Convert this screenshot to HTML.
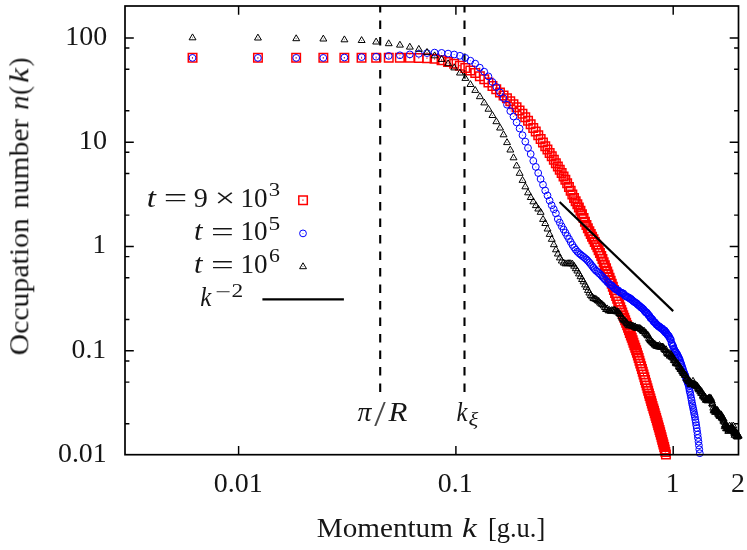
<!DOCTYPE html>
<html><head><meta charset="utf-8"><title>Occupation number n(k)</title>
<style>html,body{margin:0;padding:0;background:#fff}body{width:747px;height:550px;overflow:hidden;font-family:"Liberation Serif",serif}svg{display:block}</style></head>
<body>
<svg width="747" height="550" viewBox="0 0 747 550">
<rect width="747" height="550" fill="#fff"/>
<path d="M125 423.7h4.4M738.5 423.7h-4.4M125 382.1h4.4M738.5 382.1h-4.4M125 360.9h4.4M738.5 360.9h-4.4M125 350.8h8.8M738.5 350.8h-8.8M125 319.4h4.4M738.5 319.4h-4.4M125 277.8h4.4M738.5 277.8h-4.4M125 256.6h4.4M738.5 256.6h-4.4M125 246.4h8.8M738.5 246.4h-8.8M125 215.1h4.4M738.5 215.1h-4.4M125 173.5h4.4M738.5 173.5h-4.4M125 152.3h4.4M738.5 152.3h-4.4M125 142.2h8.8M738.5 142.2h-8.8M125 110.8h4.4M738.5 110.8h-4.4M125 69.2h4.4M738.5 69.2h-4.4M125 48h4.4M738.5 48h-4.4M125 37.9h8.8M738.5 37.9h-8.8M238.6 454.7v-8.8M238.6 6v8.8M455.9 454.7v-8.8M455.9 6v8.8M673.2 454.7v-8.8M673.2 6v8.8" stroke="#000" stroke-width="1.45" fill="none"/>
<path d="M380.2 392.1V6" stroke="#000" stroke-width="2.1" stroke-dasharray="8.7 7.8" fill="none"/>
<path d="M464.5 392.1V6" stroke="#000" stroke-width="2.1" stroke-dasharray="8.7 7.8" fill="none"/>
<path d="M188.3 53.6h8.5v8.5h-8.5zM253.7 53.6h8.5v8.5h-8.5zM291.9 53.6h8.5v8.5h-8.5zM319.1 53.6h8.5v8.5h-8.5zM340.1 53.6h8.5v8.5h-8.5zM357.3 53.6h8.5v8.5h-8.5zM371.9 53.6h8.5v8.5h-8.5zM384.5 53.6h8.5v8.5h-8.5zM395.6 53.6h8.5v8.5h-8.5zM405.6 53.6h8.5v8.5h-8.5zM414.6 53.7h8.5v8.5h-8.5zM422.8 54h8.5v8.5h-8.5zM430.3 54.6h8.5v8.5h-8.5zM437.3 56h8.5v8.5h-8.5zM443.8 57.8h8.5v8.5h-8.5zM449.9 59.5h8.5v8.5h-8.5zM455.6 61.5h8.5v8.5h-8.5zM461 63.8h8.5v8.5h-8.5zM466.1 66.2h8.5v8.5h-8.5zM471 68.8h8.5v8.5h-8.5zM475.6 72h8.5v8.5h-8.5zM480 75h8.5v8.5h-8.5zM484.2 78.2h8.5v8.5h-8.5zM488.2 81.7h8.5v8.5h-8.5zM492 85h8.5v8.5h-8.5zM495.7 88.3h8.5v8.5h-8.5zM499.3 91.2h8.5v8.5h-8.5zM502.7 94.1h8.5v8.5h-8.5zM506 97.1h8.5v8.5h-8.5zM509.2 100h8.5v8.5h-8.5zM512.3 103.1h8.5v8.5h-8.5zM515.3 106.3h8.5v8.5h-8.5zM518.2 109.6h8.5v8.5h-8.5zM521 113.1h8.5v8.5h-8.5zM523.8 116.5h8.5v8.5h-8.5zM526.4 120.1h8.5v8.5h-8.5zM529 123.7h8.5v8.5h-8.5zM531.5 127.3h8.5v8.5h-8.5zM534 131h8.5v8.5h-8.5zM536.4 134.7h8.5v8.5h-8.5zM538.7 138.3h8.5v8.5h-8.5zM541 141.9h8.5v8.5h-8.5zM543.2 145.3h8.5v8.5h-8.5zM545.4 148.7h8.5v8.5h-8.5zM547.5 152.1h8.5v8.5h-8.5zM549.6 155.5h8.5v8.5h-8.5zM551.6 158.9h8.5v8.5h-8.5zM553.6 162.2h8.5v8.5h-8.5zM555.5 165.5h8.5v8.5h-8.5zM557.4 168.8h8.5v8.5h-8.5zM559.3 172.2h8.5v8.5h-8.5zM561.1 175.6h8.5v8.5h-8.5zM562.9 179.1h8.5v8.5h-8.5zM564.7 182.8h8.5v8.5h-8.5zM566.4 186.5h8.5v8.5h-8.5zM568.1 190.2h8.5v8.5h-8.5zM569.8 193.7h8.5v8.5h-8.5zM571.4 197h8.5v8.5h-8.5zM573.1 200.1h8.5v8.5h-8.5zM574.6 203.2h8.5v8.5h-8.5zM576.2 206.6h8.5v8.5h-8.5zM577.7 210.1h8.5v8.5h-8.5zM579.3 213.8h8.5v8.5h-8.5zM580.7 217.4h8.5v8.5h-8.5zM582.2 220.8h8.5v8.5h-8.5zM583.6 223.9h8.5v8.5h-8.5zM585.1 226.9h8.5v8.5h-8.5zM586.5 229.7h8.5v8.5h-8.5zM587.8 232.4h8.5v8.5h-8.5zM589.2 235.1h8.5v8.5h-8.5zM590.5 237.7h8.5v8.5h-8.5zM591.9 240.4h8.5v8.5h-8.5zM593.2 243.1h8.5v8.5h-8.5zM594.4 245.9h8.5v8.5h-8.5zM595.7 248.8h8.5v8.5h-8.5zM597 251.8h8.5v8.5h-8.5zM598.2 254.8h8.5v8.5h-8.5zM599.4 257.9h8.5v8.5h-8.5zM600.6 261h8.5v8.5h-8.5zM601.8 264.1h8.5v8.5h-8.5zM603 267.2h8.5v8.5h-8.5zM604.1 270.3h8.5v8.5h-8.5zM605.3 273.4h8.5v8.5h-8.5zM606.4 276.4h8.5v8.5h-8.5zM607.5 279.5h8.5v8.5h-8.5zM608.6 282.6h8.5v8.5h-8.5zM609.7 285.7h8.5v8.5h-8.5zM610.8 288.7h8.5v8.5h-8.5zM611.9 291.7h8.5v8.5h-8.5zM612.9 294.6h8.5v8.5h-8.5zM614 297.5h8.5v8.5h-8.5zM615 300.3h8.5v8.5h-8.5zM616 303h8.5v8.5h-8.5zM617 305.7h8.5v8.5h-8.5zM618 308.3h8.5v8.5h-8.5zM619 310.9h8.5v8.5h-8.5zM620 313.4h8.5v8.5h-8.5zM620.9 316h8.5v8.5h-8.5zM621.9 318.5h8.5v8.5h-8.5zM622.9 321.1h8.5v8.5h-8.5zM623.8 323.6h8.5v8.5h-8.5zM624.7 326.1h8.5v8.5h-8.5zM625.6 328.7h8.5v8.5h-8.5zM626.6 331.2h8.5v8.5h-8.5zM627.5 333.6h8.5v8.5h-8.5zM628.4 336.1h8.5v8.5h-8.5zM629.2 338.6h8.5v8.5h-8.5zM630.1 341.1h8.5v8.5h-8.5zM631 343.6h8.5v8.5h-8.5zM631.9 346.1h8.5v8.5h-8.5zM632.7 348.6h8.5v8.5h-8.5zM633.6 351.2h8.5v8.5h-8.5zM634.4 353.8h8.5v8.5h-8.5zM635.2 356.5h8.5v8.5h-8.5zM636 359.2h8.5v8.5h-8.5zM636.9 361.9h8.5v8.5h-8.5zM637.7 364.7h8.5v8.5h-8.5zM638.5 367.5h8.5v8.5h-8.5zM639.3 370.2h8.5v8.5h-8.5zM640.1 373h8.5v8.5h-8.5zM640.8 375.7h8.5v8.5h-8.5zM641.6 378.5h8.5v8.5h-8.5zM642.4 381.2h8.5v8.5h-8.5zM643.2 383.9h8.5v8.5h-8.5zM643.9 386.5h8.5v8.5h-8.5zM644.7 389.2h8.5v8.5h-8.5zM645.4 391.8h8.5v8.5h-8.5zM646.2 394.3h8.5v8.5h-8.5zM646.9 396.8h8.5v8.5h-8.5zM647.6 399.3h8.5v8.5h-8.5zM648.3 401.8h8.5v8.5h-8.5zM649.1 404.2h8.5v8.5h-8.5zM649.8 406.6h8.5v8.5h-8.5zM650.5 409h8.5v8.5h-8.5zM651.2 411.4h8.5v8.5h-8.5zM651.9 413.8h8.5v8.5h-8.5zM652.6 416.2h8.5v8.5h-8.5zM653.3 418.6h8.5v8.5h-8.5zM653.9 420.9h8.5v8.5h-8.5zM654.6 423.3h8.5v8.5h-8.5zM655.3 425.7h8.5v8.5h-8.5zM655.9 428.1h8.5v8.5h-8.5zM656.6 430.5h8.5v8.5h-8.5zM657.3 433h8.5v8.5h-8.5zM657.9 435.4h8.5v8.5h-8.5zM658.6 437.9h8.5v8.5h-8.5zM659.2 440.3h8.5v8.5h-8.5zM659.9 442.8h8.5v8.5h-8.5zM660.5 445.3h8.5v8.5h-8.5zM661.1 447.8h8.5v8.5h-8.5zM661.7 450.3h8.5v8.5h-8.5z" stroke="#f00" stroke-width="1.5" fill="none"/>
<path d="M191.9 57.3h1.1v1.1h-1.1zM257.3 57.3h1.1v1.1h-1.1zM295.6 57.3h1.1v1.1h-1.1zM322.8 57.3h1.1v1.1h-1.1zM343.8 57.3h1.1v1.1h-1.1zM361 57.3h1.1v1.1h-1.1zM375.6 57.3h1.1v1.1h-1.1zM388.2 57.3h1.1v1.1h-1.1zM399.3 57.3h1.1v1.1h-1.1zM409.2 57.3h1.1v1.1h-1.1zM418.2 57.4h1.1v1.1h-1.1zM426.4 57.6h1.1v1.1h-1.1zM434 58.3h1.1v1.1h-1.1zM441 59.7h1.1v1.1h-1.1zM447.5 61.4h1.1v1.1h-1.1zM453.6 63.2h1.1v1.1h-1.1zM459.3 65.1h1.1v1.1h-1.1zM464.7 67.4h1.1v1.1h-1.1zM469.8 69.8h1.1v1.1h-1.1zM474.6 72.5h1.1v1.1h-1.1zM479.2 75.6h1.1v1.1h-1.1zM483.6 78.7h1.1v1.1h-1.1zM487.8 81.9h1.1v1.1h-1.1zM491.9 85.3h1.1v1.1h-1.1zM495.7 88.6h1.1v1.1h-1.1zM499.4 92h1.1v1.1h-1.1zM503 94.9h1.1v1.1h-1.1zM506.4 97.8h1.1v1.1h-1.1zM509.7 100.7h1.1v1.1h-1.1zM512.9 103.7h1.1v1.1h-1.1zM516 106.8h1.1v1.1h-1.1zM519 110h1.1v1.1h-1.1zM521.9 113.3h1.1v1.1h-1.1zM524.7 116.7h1.1v1.1h-1.1zM527.5 120.2h1.1v1.1h-1.1zM530.1 123.7h1.1v1.1h-1.1zM532.7 127.4h1.1v1.1h-1.1zM535.2 131h1.1v1.1h-1.1zM537.7 134.6h1.1v1.1h-1.1zM540.1 138.3h1.1v1.1h-1.1zM542.4 142h1.1v1.1h-1.1zM544.7 145.6h1.1v1.1h-1.1zM546.9 149h1.1v1.1h-1.1zM549.1 152.4h1.1v1.1h-1.1zM551.2 155.8h1.1v1.1h-1.1zM553.2 159.2h1.1v1.1h-1.1zM555.3 162.5h1.1v1.1h-1.1zM557.3 165.9h1.1v1.1h-1.1zM559.2 169.2h1.1v1.1h-1.1zM561.1 172.5h1.1v1.1h-1.1zM563 175.9h1.1v1.1h-1.1zM564.8 179.3h1.1v1.1h-1.1zM566.6 182.8h1.1v1.1h-1.1zM568.4 186.4h1.1v1.1h-1.1zM570.1 190.2h1.1v1.1h-1.1zM571.8 193.9h1.1v1.1h-1.1zM573.5 197.4h1.1v1.1h-1.1zM575.1 200.7h1.1v1.1h-1.1zM576.7 203.8h1.1v1.1h-1.1zM578.3 206.9h1.1v1.1h-1.1zM579.9 210.2h1.1v1.1h-1.1zM581.4 213.8h1.1v1.1h-1.1zM582.9 217.4h1.1v1.1h-1.1zM584.4 221h1.1v1.1h-1.1zM585.9 224.4h1.1v1.1h-1.1zM587.3 227.6h1.1v1.1h-1.1zM588.7 230.5h1.1v1.1h-1.1zM590.1 233.4h1.1v1.1h-1.1zM591.5 236.1h1.1v1.1h-1.1zM592.9 238.8h1.1v1.1h-1.1zM594.2 241.4h1.1v1.1h-1.1zM595.5 244.1h1.1v1.1h-1.1zM596.8 246.8h1.1v1.1h-1.1zM598.1 249.6h1.1v1.1h-1.1zM599.4 252.5h1.1v1.1h-1.1zM600.6 255.5h1.1v1.1h-1.1zM601.9 258.5h1.1v1.1h-1.1zM603.1 261.6h1.1v1.1h-1.1zM604.3 264.7h1.1v1.1h-1.1zM605.5 267.8h1.1v1.1h-1.1zM606.6 270.9h1.1v1.1h-1.1zM607.8 274h1.1v1.1h-1.1zM608.9 277.1h1.1v1.1h-1.1zM610.1 280.1h1.1v1.1h-1.1zM611.2 283.2h1.1v1.1h-1.1zM612.3 286.3h1.1v1.1h-1.1zM613.4 289.4h1.1v1.1h-1.1zM614.5 292.4h1.1v1.1h-1.1zM615.5 295.4h1.1v1.1h-1.1zM616.6 298.3h1.1v1.1h-1.1zM617.6 301.2h1.1v1.1h-1.1zM618.7 304h1.1v1.1h-1.1zM619.7 306.7h1.1v1.1h-1.1zM620.7 309.3h1.1v1.1h-1.1zM621.7 312h1.1v1.1h-1.1zM622.7 314.5h1.1v1.1h-1.1zM623.7 317.1h1.1v1.1h-1.1zM624.6 319.6h1.1v1.1h-1.1zM625.6 322.2h1.1v1.1h-1.1zM626.5 324.7h1.1v1.1h-1.1zM627.5 327.3h1.1v1.1h-1.1zM628.4 329.8h1.1v1.1h-1.1zM629.3 332.3h1.1v1.1h-1.1zM630.2 334.8h1.1v1.1h-1.1zM631.1 337.3h1.1v1.1h-1.1zM632 339.8h1.1v1.1h-1.1zM632.9 342.3h1.1v1.1h-1.1zM633.8 344.8h1.1v1.1h-1.1zM634.7 347.3h1.1v1.1h-1.1zM635.5 349.8h1.1v1.1h-1.1zM636.4 352.3h1.1v1.1h-1.1zM637.2 354.8h1.1v1.1h-1.1zM638.1 357.5h1.1v1.1h-1.1zM638.9 360.2h1.1v1.1h-1.1zM639.7 362.9h1.1v1.1h-1.1zM640.5 365.6h1.1v1.1h-1.1zM641.3 368.4h1.1v1.1h-1.1zM642.2 371.1h1.1v1.1h-1.1zM642.9 373.9h1.1v1.1h-1.1zM643.7 376.7h1.1v1.1h-1.1zM644.5 379.4h1.1v1.1h-1.1zM645.3 382.2h1.1v1.1h-1.1zM646.1 384.9h1.1v1.1h-1.1zM646.8 387.6h1.1v1.1h-1.1zM647.6 390.2h1.1v1.1h-1.1zM648.3 392.9h1.1v1.1h-1.1zM649.1 395.5h1.1v1.1h-1.1zM649.8 398h1.1v1.1h-1.1zM650.6 400.5h1.1v1.1h-1.1zM651.3 403h1.1v1.1h-1.1zM652 405.5h1.1v1.1h-1.1zM652.7 407.9h1.1v1.1h-1.1zM653.4 410.3h1.1v1.1h-1.1zM654.2 412.7h1.1v1.1h-1.1zM654.9 415.1h1.1v1.1h-1.1zM655.5 417.5h1.1v1.1h-1.1zM656.2 419.9h1.1v1.1h-1.1zM656.9 422.2h1.1v1.1h-1.1zM657.6 424.6h1.1v1.1h-1.1zM658.3 427h1.1v1.1h-1.1zM659 429.4h1.1v1.1h-1.1zM659.6 431.8h1.1v1.1h-1.1zM660.3 434.2h1.1v1.1h-1.1zM660.9 436.6h1.1v1.1h-1.1zM661.6 439.1h1.1v1.1h-1.1zM662.2 441.5h1.1v1.1h-1.1zM662.9 444h1.1v1.1h-1.1zM663.5 446.5h1.1v1.1h-1.1zM664.2 449h1.1v1.1h-1.1zM664.8 451.5h1.1v1.1h-1.1zM665.4 454h1.1v1.1h-1.1z" fill="#f00"/>
<path d="M189.1 57.9a3.4 3.4 0 1 0 6.8 0a3.4 3.4 0 1 0 -6.8 0M254.5 57.9a3.4 3.4 0 1 0 6.8 0a3.4 3.4 0 1 0 -6.8 0M292.8 57.9a3.4 3.4 0 1 0 6.8 0a3.4 3.4 0 1 0 -6.8 0M319.9 57.9a3.4 3.4 0 1 0 6.8 0a3.4 3.4 0 1 0 -6.8 0M341 57.5a3.4 3.4 0 1 0 6.8 0a3.4 3.4 0 1 0 -6.8 0M358.2 57.1a3.4 3.4 0 1 0 6.8 0a3.4 3.4 0 1 0 -6.8 0M372.7 56.7a3.4 3.4 0 1 0 6.8 0a3.4 3.4 0 1 0 -6.8 0M385.3 55.9a3.4 3.4 0 1 0 6.8 0a3.4 3.4 0 1 0 -6.8 0M396.5 55.3a3.4 3.4 0 1 0 6.8 0a3.4 3.4 0 1 0 -6.8 0M406.4 54.4a3.4 3.4 0 1 0 6.8 0a3.4 3.4 0 1 0 -6.8 0M415.4 53.8a3.4 3.4 0 1 0 6.8 0a3.4 3.4 0 1 0 -6.8 0M423.6 53.1a3.4 3.4 0 1 0 6.8 0a3.4 3.4 0 1 0 -6.8 0M431.2 52.6a3.4 3.4 0 1 0 6.8 0a3.4 3.4 0 1 0 -6.8 0M438.2 52.9a3.4 3.4 0 1 0 6.8 0a3.4 3.4 0 1 0 -6.8 0M444.7 53.6a3.4 3.4 0 1 0 6.8 0a3.4 3.4 0 1 0 -6.8 0M450.8 54.5a3.4 3.4 0 1 0 6.8 0a3.4 3.4 0 1 0 -6.8 0M456.5 55.8a3.4 3.4 0 1 0 6.8 0a3.4 3.4 0 1 0 -6.8 0M461.9 57.9a3.4 3.4 0 1 0 6.8 0a3.4 3.4 0 1 0 -6.8 0M467 60.7a3.4 3.4 0 1 0 6.8 0a3.4 3.4 0 1 0 -6.8 0M471.8 63.6a3.4 3.4 0 1 0 6.8 0a3.4 3.4 0 1 0 -6.8 0M476.4 67.7a3.4 3.4 0 1 0 6.8 0a3.4 3.4 0 1 0 -6.8 0M480.8 71.7a3.4 3.4 0 1 0 6.8 0a3.4 3.4 0 1 0 -6.8 0M485 76.4a3.4 3.4 0 1 0 6.8 0a3.4 3.4 0 1 0 -6.8 0M489 82a3.4 3.4 0 1 0 6.8 0a3.4 3.4 0 1 0 -6.8 0M492.9 87a3.4 3.4 0 1 0 6.8 0a3.4 3.4 0 1 0 -6.8 0M496.6 92.4a3.4 3.4 0 1 0 6.8 0a3.4 3.4 0 1 0 -6.8 0M500.1 98.1a3.4 3.4 0 1 0 6.8 0a3.4 3.4 0 1 0 -6.8 0M503.6 104.7a3.4 3.4 0 1 0 6.8 0a3.4 3.4 0 1 0 -6.8 0M506.9 111.1a3.4 3.4 0 1 0 6.8 0a3.4 3.4 0 1 0 -6.8 0M510.1 116.5a3.4 3.4 0 1 0 6.8 0a3.4 3.4 0 1 0 -6.8 0M513.2 122.4a3.4 3.4 0 1 0 6.8 0a3.4 3.4 0 1 0 -6.8 0M516.2 128.5a3.4 3.4 0 1 0 6.8 0a3.4 3.4 0 1 0 -6.8 0M519.1 135.2a3.4 3.4 0 1 0 6.8 0a3.4 3.4 0 1 0 -6.8 0M521.9 141.6a3.4 3.4 0 1 0 6.8 0a3.4 3.4 0 1 0 -6.8 0M524.6 148a3.4 3.4 0 1 0 6.8 0a3.4 3.4 0 1 0 -6.8 0M527.3 154a3.4 3.4 0 1 0 6.8 0a3.4 3.4 0 1 0 -6.8 0M529.9 160.9a3.4 3.4 0 1 0 6.8 0a3.4 3.4 0 1 0 -6.8 0M532.4 166.9a3.4 3.4 0 1 0 6.8 0a3.4 3.4 0 1 0 -6.8 0M534.8 173a3.4 3.4 0 1 0 6.8 0a3.4 3.4 0 1 0 -6.8 0M537.2 179a3.4 3.4 0 1 0 6.8 0a3.4 3.4 0 1 0 -6.8 0M539.6 184.7a3.4 3.4 0 1 0 6.8 0a3.4 3.4 0 1 0 -6.8 0M541.8 190.5a3.4 3.4 0 1 0 6.8 0a3.4 3.4 0 1 0 -6.8 0M544.1 195.5a3.4 3.4 0 1 0 6.8 0a3.4 3.4 0 1 0 -6.8 0M546.2 200.6a3.4 3.4 0 1 0 6.8 0a3.4 3.4 0 1 0 -6.8 0M548.3 205.3a3.4 3.4 0 1 0 6.8 0a3.4 3.4 0 1 0 -6.8 0M550.4 209.3a3.4 3.4 0 1 0 6.8 0a3.4 3.4 0 1 0 -6.8 0M552.5 213.4a3.4 3.4 0 1 0 6.8 0a3.4 3.4 0 1 0 -6.8 0M554.4 219a3.4 3.4 0 1 0 6.8 0a3.4 3.4 0 1 0 -6.8 0M556.4 222.6a3.4 3.4 0 1 0 6.8 0a3.4 3.4 0 1 0 -6.8 0M558.3 226.3a3.4 3.4 0 1 0 6.8 0a3.4 3.4 0 1 0 -6.8 0M560.2 229.5a3.4 3.4 0 1 0 6.8 0a3.4 3.4 0 1 0 -6.8 0M562 232.7a3.4 3.4 0 1 0 6.8 0a3.4 3.4 0 1 0 -6.8 0M563.8 235.9a3.4 3.4 0 1 0 6.8 0a3.4 3.4 0 1 0 -6.8 0M565.6 238.9a3.4 3.4 0 1 0 6.8 0a3.4 3.4 0 1 0 -6.8 0M567.3 242a3.4 3.4 0 1 0 6.8 0a3.4 3.4 0 1 0 -6.8 0M569 244.9a3.4 3.4 0 1 0 6.8 0a3.4 3.4 0 1 0 -6.8 0M570.7 247.5a3.4 3.4 0 1 0 6.8 0a3.4 3.4 0 1 0 -6.8 0M572.3 249.7a3.4 3.4 0 1 0 6.8 0a3.4 3.4 0 1 0 -6.8 0M573.9 251.6a3.4 3.4 0 1 0 6.8 0a3.4 3.4 0 1 0 -6.8 0M575.5 253.2a3.4 3.4 0 1 0 6.8 0a3.4 3.4 0 1 0 -6.8 0M577.1 254.5a3.4 3.4 0 1 0 6.8 0a3.4 3.4 0 1 0 -6.8 0M578.6 255.8a3.4 3.4 0 1 0 6.8 0a3.4 3.4 0 1 0 -6.8 0M580.1 256.9a3.4 3.4 0 1 0 6.8 0a3.4 3.4 0 1 0 -6.8 0M581.6 258.1a3.4 3.4 0 1 0 6.8 0a3.4 3.4 0 1 0 -6.8 0M583.1 259.4a3.4 3.4 0 1 0 6.8 0a3.4 3.4 0 1 0 -6.8 0M584.5 260.9a3.4 3.4 0 1 0 6.8 0a3.4 3.4 0 1 0 -6.8 0M585.9 262.5a3.4 3.4 0 1 0 6.8 0a3.4 3.4 0 1 0 -6.8 0M587.3 264.2a3.4 3.4 0 1 0 6.8 0a3.4 3.4 0 1 0 -6.8 0M588.7 266a3.4 3.4 0 1 0 6.8 0a3.4 3.4 0 1 0 -6.8 0M590 267.7a3.4 3.4 0 1 0 6.8 0a3.4 3.4 0 1 0 -6.8 0M591.4 269.3a3.4 3.4 0 1 0 6.8 0a3.4 3.4 0 1 0 -6.8 0M592.7 270.8a3.4 3.4 0 1 0 6.8 0a3.4 3.4 0 1 0 -6.8 0M594 271.7a3.4 3.4 0 1 0 6.8 0a3.4 3.4 0 1 0 -6.8 0M595.3 273.1a3.4 3.4 0 1 0 6.8 0a3.4 3.4 0 1 0 -6.8 0M596.6 274.1a3.4 3.4 0 1 0 6.8 0a3.4 3.4 0 1 0 -6.8 0M597.8 275.4a3.4 3.4 0 1 0 6.8 0a3.4 3.4 0 1 0 -6.8 0M599 276.8a3.4 3.4 0 1 0 6.8 0a3.4 3.4 0 1 0 -6.8 0M600.3 278a3.4 3.4 0 1 0 6.8 0a3.4 3.4 0 1 0 -6.8 0M601.5 279.4a3.4 3.4 0 1 0 6.8 0a3.4 3.4 0 1 0 -6.8 0M602.6 280.3a3.4 3.4 0 1 0 6.8 0a3.4 3.4 0 1 0 -6.8 0M603.8 282a3.4 3.4 0 1 0 6.8 0a3.4 3.4 0 1 0 -6.8 0M605 282.8a3.4 3.4 0 1 0 6.8 0a3.4 3.4 0 1 0 -6.8 0M606.1 284.2a3.4 3.4 0 1 0 6.8 0a3.4 3.4 0 1 0 -6.8 0M607.3 285.1a3.4 3.4 0 1 0 6.8 0a3.4 3.4 0 1 0 -6.8 0M608.4 285.4a3.4 3.4 0 1 0 6.8 0a3.4 3.4 0 1 0 -6.8 0M609.5 286.7a3.4 3.4 0 1 0 6.8 0a3.4 3.4 0 1 0 -6.8 0M610.6 287.9a3.4 3.4 0 1 0 6.8 0a3.4 3.4 0 1 0 -6.8 0M611.6 289a3.4 3.4 0 1 0 6.8 0a3.4 3.4 0 1 0 -6.8 0M612.7 289.4a3.4 3.4 0 1 0 6.8 0a3.4 3.4 0 1 0 -6.8 0M613.8 290.1a3.4 3.4 0 1 0 6.8 0a3.4 3.4 0 1 0 -6.8 0M614.8 290.3a3.4 3.4 0 1 0 6.8 0a3.4 3.4 0 1 0 -6.8 0M615.8 291.8a3.4 3.4 0 1 0 6.8 0a3.4 3.4 0 1 0 -6.8 0M616.9 292.5a3.4 3.4 0 1 0 6.8 0a3.4 3.4 0 1 0 -6.8 0M617.9 292.6a3.4 3.4 0 1 0 6.8 0a3.4 3.4 0 1 0 -6.8 0M618.9 293.2a3.4 3.4 0 1 0 6.8 0a3.4 3.4 0 1 0 -6.8 0M619.9 293.4a3.4 3.4 0 1 0 6.8 0a3.4 3.4 0 1 0 -6.8 0M620.8 294.8a3.4 3.4 0 1 0 6.8 0a3.4 3.4 0 1 0 -6.8 0M621.8 296.1a3.4 3.4 0 1 0 6.8 0a3.4 3.4 0 1 0 -6.8 0M622.8 296a3.4 3.4 0 1 0 6.8 0a3.4 3.4 0 1 0 -6.8 0M623.7 296.9a3.4 3.4 0 1 0 6.8 0a3.4 3.4 0 1 0 -6.8 0M624.6 297.4a3.4 3.4 0 1 0 6.8 0a3.4 3.4 0 1 0 -6.8 0M625.6 297.5a3.4 3.4 0 1 0 6.8 0a3.4 3.4 0 1 0 -6.8 0M626.5 298.8a3.4 3.4 0 1 0 6.8 0a3.4 3.4 0 1 0 -6.8 0M627.4 298.7a3.4 3.4 0 1 0 6.8 0a3.4 3.4 0 1 0 -6.8 0M628.3 299.7a3.4 3.4 0 1 0 6.8 0a3.4 3.4 0 1 0 -6.8 0M629.2 300.5a3.4 3.4 0 1 0 6.8 0a3.4 3.4 0 1 0 -6.8 0M630.1 301.4a3.4 3.4 0 1 0 6.8 0a3.4 3.4 0 1 0 -6.8 0M631 301.9a3.4 3.4 0 1 0 6.8 0a3.4 3.4 0 1 0 -6.8 0M631.8 302.6a3.4 3.4 0 1 0 6.8 0a3.4 3.4 0 1 0 -6.8 0M632.7 303a3.4 3.4 0 1 0 6.8 0a3.4 3.4 0 1 0 -6.8 0M633.6 303.6a3.4 3.4 0 1 0 6.8 0a3.4 3.4 0 1 0 -6.8 0M634.4 304.7a3.4 3.4 0 1 0 6.8 0a3.4 3.4 0 1 0 -6.8 0M635.2 305.3a3.4 3.4 0 1 0 6.8 0a3.4 3.4 0 1 0 -6.8 0M636.1 305.9a3.4 3.4 0 1 0 6.8 0a3.4 3.4 0 1 0 -6.8 0M636.9 306.6a3.4 3.4 0 1 0 6.8 0a3.4 3.4 0 1 0 -6.8 0M637.7 307.6a3.4 3.4 0 1 0 6.8 0a3.4 3.4 0 1 0 -6.8 0M638.5 307.9a3.4 3.4 0 1 0 6.8 0a3.4 3.4 0 1 0 -6.8 0M639.3 308.7a3.4 3.4 0 1 0 6.8 0a3.4 3.4 0 1 0 -6.8 0M640.1 309.3a3.4 3.4 0 1 0 6.8 0a3.4 3.4 0 1 0 -6.8 0M640.9 310.6a3.4 3.4 0 1 0 6.8 0a3.4 3.4 0 1 0 -6.8 0M641.7 311.4a3.4 3.4 0 1 0 6.8 0a3.4 3.4 0 1 0 -6.8 0M642.5 312.6a3.4 3.4 0 1 0 6.8 0a3.4 3.4 0 1 0 -6.8 0M643.2 312.4a3.4 3.4 0 1 0 6.8 0a3.4 3.4 0 1 0 -6.8 0M644 313.4a3.4 3.4 0 1 0 6.8 0a3.4 3.4 0 1 0 -6.8 0M644.8 314.8a3.4 3.4 0 1 0 6.8 0a3.4 3.4 0 1 0 -6.8 0M645.5 315.3a3.4 3.4 0 1 0 6.8 0a3.4 3.4 0 1 0 -6.8 0M646.3 316.3a3.4 3.4 0 1 0 6.8 0a3.4 3.4 0 1 0 -6.8 0M647 318a3.4 3.4 0 1 0 6.8 0a3.4 3.4 0 1 0 -6.8 0M647.7 318.3a3.4 3.4 0 1 0 6.8 0a3.4 3.4 0 1 0 -6.8 0M648.5 319a3.4 3.4 0 1 0 6.8 0a3.4 3.4 0 1 0 -6.8 0M649.2 319.8a3.4 3.4 0 1 0 6.8 0a3.4 3.4 0 1 0 -6.8 0M649.9 321.2a3.4 3.4 0 1 0 6.8 0a3.4 3.4 0 1 0 -6.8 0M650.6 322a3.4 3.4 0 1 0 6.8 0a3.4 3.4 0 1 0 -6.8 0M651.3 322.2a3.4 3.4 0 1 0 6.8 0a3.4 3.4 0 1 0 -6.8 0M652 323a3.4 3.4 0 1 0 6.8 0a3.4 3.4 0 1 0 -6.8 0M652.7 324.2a3.4 3.4 0 1 0 6.8 0a3.4 3.4 0 1 0 -6.8 0M653.4 324.9a3.4 3.4 0 1 0 6.8 0a3.4 3.4 0 1 0 -6.8 0M654.1 325.1a3.4 3.4 0 1 0 6.8 0a3.4 3.4 0 1 0 -6.8 0M654.8 326.1a3.4 3.4 0 1 0 6.8 0a3.4 3.4 0 1 0 -6.8 0M655.5 326.7a3.4 3.4 0 1 0 6.8 0a3.4 3.4 0 1 0 -6.8 0M656.1 326.5a3.4 3.4 0 1 0 6.8 0a3.4 3.4 0 1 0 -6.8 0M656.8 327.5a3.4 3.4 0 1 0 6.8 0a3.4 3.4 0 1 0 -6.8 0M657.5 328.2a3.4 3.4 0 1 0 6.8 0a3.4 3.4 0 1 0 -6.8 0M658.1 328.4a3.4 3.4 0 1 0 6.8 0a3.4 3.4 0 1 0 -6.8 0M658.8 328.4a3.4 3.4 0 1 0 6.8 0a3.4 3.4 0 1 0 -6.8 0M659.4 329.5a3.4 3.4 0 1 0 6.8 0a3.4 3.4 0 1 0 -6.8 0M660.1 330.3a3.4 3.4 0 1 0 6.8 0a3.4 3.4 0 1 0 -6.8 0M660.7 331.1a3.4 3.4 0 1 0 6.8 0a3.4 3.4 0 1 0 -6.8 0M661.3 330.4a3.4 3.4 0 1 0 6.8 0a3.4 3.4 0 1 0 -6.8 0M662 332.6a3.4 3.4 0 1 0 6.8 0a3.4 3.4 0 1 0 -6.8 0M662.6 332.1a3.4 3.4 0 1 0 6.8 0a3.4 3.4 0 1 0 -6.8 0M663.2 333.4a3.4 3.4 0 1 0 6.8 0a3.4 3.4 0 1 0 -6.8 0M663.8 334.3a3.4 3.4 0 1 0 6.8 0a3.4 3.4 0 1 0 -6.8 0M664.5 335.1a3.4 3.4 0 1 0 6.8 0a3.4 3.4 0 1 0 -6.8 0M665.1 335.8a3.4 3.4 0 1 0 6.8 0a3.4 3.4 0 1 0 -6.8 0M665.7 336.4a3.4 3.4 0 1 0 6.8 0a3.4 3.4 0 1 0 -6.8 0M666.3 338.1a3.4 3.4 0 1 0 6.8 0a3.4 3.4 0 1 0 -6.8 0M666.9 338.9a3.4 3.4 0 1 0 6.8 0a3.4 3.4 0 1 0 -6.8 0M667.5 339.7a3.4 3.4 0 1 0 6.8 0a3.4 3.4 0 1 0 -6.8 0M668.1 343a3.4 3.4 0 1 0 6.8 0a3.4 3.4 0 1 0 -6.8 0M668.6 343.8a3.4 3.4 0 1 0 6.8 0a3.4 3.4 0 1 0 -6.8 0M669.2 345.7a3.4 3.4 0 1 0 6.8 0a3.4 3.4 0 1 0 -6.8 0M669.8 346.2a3.4 3.4 0 1 0 6.8 0a3.4 3.4 0 1 0 -6.8 0M670.4 348.4a3.4 3.4 0 1 0 6.8 0a3.4 3.4 0 1 0 -6.8 0M671 349.8a3.4 3.4 0 1 0 6.8 0a3.4 3.4 0 1 0 -6.8 0M671.5 351a3.4 3.4 0 1 0 6.8 0a3.4 3.4 0 1 0 -6.8 0M672.1 351.8a3.4 3.4 0 1 0 6.8 0a3.4 3.4 0 1 0 -6.8 0M672.7 352.6a3.4 3.4 0 1 0 6.8 0a3.4 3.4 0 1 0 -6.8 0M673.2 353.9a3.4 3.4 0 1 0 6.8 0a3.4 3.4 0 1 0 -6.8 0M673.8 354.3a3.4 3.4 0 1 0 6.8 0a3.4 3.4 0 1 0 -6.8 0M674.3 355.4a3.4 3.4 0 1 0 6.8 0a3.4 3.4 0 1 0 -6.8 0M674.9 356.9a3.4 3.4 0 1 0 6.8 0a3.4 3.4 0 1 0 -6.8 0M675.4 357.6a3.4 3.4 0 1 0 6.8 0a3.4 3.4 0 1 0 -6.8 0M676 359a3.4 3.4 0 1 0 6.8 0a3.4 3.4 0 1 0 -6.8 0M676.5 360.2a3.4 3.4 0 1 0 6.8 0a3.4 3.4 0 1 0 -6.8 0M677.1 362.3a3.4 3.4 0 1 0 6.8 0a3.4 3.4 0 1 0 -6.8 0M677.6 363.6a3.4 3.4 0 1 0 6.8 0a3.4 3.4 0 1 0 -6.8 0M678.1 364.9a3.4 3.4 0 1 0 6.8 0a3.4 3.4 0 1 0 -6.8 0M678.7 367a3.4 3.4 0 1 0 6.8 0a3.4 3.4 0 1 0 -6.8 0M679.2 368.1a3.4 3.4 0 1 0 6.8 0a3.4 3.4 0 1 0 -6.8 0M679.7 369.9a3.4 3.4 0 1 0 6.8 0a3.4 3.4 0 1 0 -6.8 0M680.2 371.8a3.4 3.4 0 1 0 6.8 0a3.4 3.4 0 1 0 -6.8 0M680.7 372.6a3.4 3.4 0 1 0 6.8 0a3.4 3.4 0 1 0 -6.8 0M681.3 374.3a3.4 3.4 0 1 0 6.8 0a3.4 3.4 0 1 0 -6.8 0M681.8 375.3a3.4 3.4 0 1 0 6.8 0a3.4 3.4 0 1 0 -6.8 0M682.3 377a3.4 3.4 0 1 0 6.8 0a3.4 3.4 0 1 0 -6.8 0M682.8 378.8a3.4 3.4 0 1 0 6.8 0a3.4 3.4 0 1 0 -6.8 0M683.3 379.6a3.4 3.4 0 1 0 6.8 0a3.4 3.4 0 1 0 -6.8 0M683.8 381.3a3.4 3.4 0 1 0 6.8 0a3.4 3.4 0 1 0 -6.8 0M684.3 382.6a3.4 3.4 0 1 0 6.8 0a3.4 3.4 0 1 0 -6.8 0M684.8 384.2a3.4 3.4 0 1 0 6.8 0a3.4 3.4 0 1 0 -6.8 0M685.3 386a3.4 3.4 0 1 0 6.8 0a3.4 3.4 0 1 0 -6.8 0M685.8 388.6a3.4 3.4 0 1 0 6.8 0a3.4 3.4 0 1 0 -6.8 0M686.2 390.9a3.4 3.4 0 1 0 6.8 0a3.4 3.4 0 1 0 -6.8 0M686.7 392.8a3.4 3.4 0 1 0 6.8 0a3.4 3.4 0 1 0 -6.8 0M687.2 395.1a3.4 3.4 0 1 0 6.8 0a3.4 3.4 0 1 0 -6.8 0M687.7 397.9a3.4 3.4 0 1 0 6.8 0a3.4 3.4 0 1 0 -6.8 0M688.2 400.3a3.4 3.4 0 1 0 6.8 0a3.4 3.4 0 1 0 -6.8 0M688.6 403a3.4 3.4 0 1 0 6.8 0a3.4 3.4 0 1 0 -6.8 0M689.1 405.3a3.4 3.4 0 1 0 6.8 0a3.4 3.4 0 1 0 -6.8 0M689.6 407.7a3.4 3.4 0 1 0 6.8 0a3.4 3.4 0 1 0 -6.8 0M690.1 410a3.4 3.4 0 1 0 6.8 0a3.4 3.4 0 1 0 -6.8 0M690.5 412.2a3.4 3.4 0 1 0 6.8 0a3.4 3.4 0 1 0 -6.8 0M691 414.6a3.4 3.4 0 1 0 6.8 0a3.4 3.4 0 1 0 -6.8 0M691.5 417a3.4 3.4 0 1 0 6.8 0a3.4 3.4 0 1 0 -6.8 0M691.9 419.8a3.4 3.4 0 1 0 6.8 0a3.4 3.4 0 1 0 -6.8 0M692.4 422.3a3.4 3.4 0 1 0 6.8 0a3.4 3.4 0 1 0 -6.8 0M692.8 425.2a3.4 3.4 0 1 0 6.8 0a3.4 3.4 0 1 0 -6.8 0M693.3 428a3.4 3.4 0 1 0 6.8 0a3.4 3.4 0 1 0 -6.8 0M693.7 431.2a3.4 3.4 0 1 0 6.8 0a3.4 3.4 0 1 0 -6.8 0M694.2 434.5a3.4 3.4 0 1 0 6.8 0a3.4 3.4 0 1 0 -6.8 0M694.6 438a3.4 3.4 0 1 0 6.8 0a3.4 3.4 0 1 0 -6.8 0M695.1 441.7a3.4 3.4 0 1 0 6.8 0a3.4 3.4 0 1 0 -6.8 0M695.5 445.4a3.4 3.4 0 1 0 6.8 0a3.4 3.4 0 1 0 -6.8 0M695.9 449.3a3.4 3.4 0 1 0 6.8 0a3.4 3.4 0 1 0 -6.8 0M696.4 453.2a3.4 3.4 0 1 0 6.8 0a3.4 3.4 0 1 0 -6.8 0" stroke="#00f" stroke-width="1.0" fill="none"/>
<path d="M192 57.4h1v1h-1zM257.4 57.4h1v1h-1zM295.7 57.4h1v1h-1zM322.8 57.4h1v1h-1zM343.9 57h1v1h-1zM361.1 56.6h1v1h-1zM375.6 56.2h1v1h-1zM388.2 55.4h1v1h-1zM399.4 54.8h1v1h-1zM409.3 53.9h1v1h-1zM418.3 53.3h1v1h-1zM426.5 52.6h1v1h-1zM434.1 52.1h1v1h-1zM441.1 52.4h1v1h-1zM447.6 53.1h1v1h-1zM453.7 54h1v1h-1zM459.4 55.3h1v1h-1zM464.8 57.4h1v1h-1zM469.9 60.2h1v1h-1zM474.7 63.1h1v1h-1zM479.3 67.2h1v1h-1zM483.7 71.2h1v1h-1zM487.9 75.9h1v1h-1zM491.9 81.5h1v1h-1zM495.8 86.5h1v1h-1zM499.5 91.9h1v1h-1zM503 97.6h1v1h-1zM506.5 104.2h1v1h-1zM509.8 110.6h1v1h-1zM513 116h1v1h-1zM516.1 121.9h1v1h-1zM519.1 128h1v1h-1zM522 134.7h1v1h-1zM524.8 141.1h1v1h-1zM527.5 147.5h1v1h-1zM530.2 153.5h1v1h-1zM532.8 160.4h1v1h-1zM535.3 166.4h1v1h-1zM537.7 172.5h1v1h-1zM540.1 178.5h1v1h-1zM542.5 184.2h1v1h-1zM544.7 190h1v1h-1zM547 195h1v1h-1zM549.1 200.1h1v1h-1zM551.2 204.8h1v1h-1zM553.3 208.8h1v1h-1zM555.4 212.9h1v1h-1zM557.3 218.5h1v1h-1zM559.3 222.1h1v1h-1zM561.2 225.8h1v1h-1zM563.1 229h1v1h-1zM564.9 232.2h1v1h-1zM566.7 235.4h1v1h-1zM568.5 238.4h1v1h-1zM570.2 241.5h1v1h-1zM571.9 244.4h1v1h-1zM573.6 247h1v1h-1zM575.2 249.2h1v1h-1zM576.8 251.1h1v1h-1zM578.4 252.7h1v1h-1zM580 254h1v1h-1zM581.5 255.3h1v1h-1zM583 256.4h1v1h-1zM584.5 257.6h1v1h-1zM586 258.9h1v1h-1zM587.4 260.4h1v1h-1zM588.8 262h1v1h-1zM590.2 263.7h1v1h-1zM591.6 265.5h1v1h-1zM592.9 267.2h1v1h-1zM594.3 268.8h1v1h-1zM595.6 270.3h1v1h-1zM596.9 271.2h1v1h-1zM598.2 272.6h1v1h-1zM599.5 273.6h1v1h-1zM600.7 274.9h1v1h-1zM601.9 276.3h1v1h-1zM603.2 277.5h1v1h-1zM604.4 278.9h1v1h-1zM605.5 279.8h1v1h-1zM606.7 281.5h1v1h-1zM607.9 282.3h1v1h-1zM609 283.7h1v1h-1zM610.2 284.6h1v1h-1zM611.3 284.9h1v1h-1zM612.4 286.2h1v1h-1zM613.5 287.4h1v1h-1zM614.5 288.5h1v1h-1zM615.6 288.9h1v1h-1zM616.7 289.6h1v1h-1zM617.7 289.8h1v1h-1zM618.7 291.3h1v1h-1zM619.8 292h1v1h-1zM620.8 292.1h1v1h-1zM621.8 292.7h1v1h-1zM622.8 292.9h1v1h-1zM623.7 294.3h1v1h-1zM624.7 295.6h1v1h-1zM625.7 295.5h1v1h-1zM626.6 296.4h1v1h-1zM627.5 296.9h1v1h-1zM628.5 297h1v1h-1zM629.4 298.3h1v1h-1zM630.3 298.2h1v1h-1zM631.2 299.2h1v1h-1zM632.1 300h1v1h-1zM633 300.9h1v1h-1zM633.9 301.4h1v1h-1zM634.7 302.1h1v1h-1zM635.6 302.5h1v1h-1zM636.5 303.1h1v1h-1zM637.3 304.2h1v1h-1zM638.1 304.8h1v1h-1zM639 305.4h1v1h-1zM639.8 306.1h1v1h-1zM640.6 307.1h1v1h-1zM641.4 307.4h1v1h-1zM642.2 308.2h1v1h-1zM643 308.8h1v1h-1zM643.8 310.1h1v1h-1zM644.6 310.9h1v1h-1zM645.4 312.1h1v1h-1zM646.1 311.9h1v1h-1zM646.9 312.9h1v1h-1zM647.7 314.3h1v1h-1zM648.4 314.8h1v1h-1zM649.2 315.8h1v1h-1zM649.9 317.5h1v1h-1zM650.6 317.8h1v1h-1zM651.4 318.5h1v1h-1zM652.1 319.3h1v1h-1zM652.8 320.7h1v1h-1zM653.5 321.5h1v1h-1zM654.2 321.7h1v1h-1zM654.9 322.5h1v1h-1zM655.6 323.7h1v1h-1zM656.3 324.4h1v1h-1zM657 324.6h1v1h-1zM657.7 325.6h1v1h-1zM658.4 326.2h1v1h-1zM659 326h1v1h-1zM659.7 327h1v1h-1zM660.4 327.7h1v1h-1zM661 327.9h1v1h-1zM661.7 327.9h1v1h-1zM662.3 329h1v1h-1zM663 329.8h1v1h-1zM663.6 330.6h1v1h-1zM664.2 329.9h1v1h-1zM664.9 332.1h1v1h-1zM665.5 331.6h1v1h-1zM666.1 332.9h1v1h-1zM666.7 333.8h1v1h-1zM667.4 334.6h1v1h-1zM668 335.3h1v1h-1zM668.6 335.9h1v1h-1zM669.2 337.6h1v1h-1zM669.8 338.4h1v1h-1zM670.4 339.2h1v1h-1zM671 342.5h1v1h-1zM671.5 343.3h1v1h-1zM672.1 345.2h1v1h-1zM672.7 345.7h1v1h-1zM673.3 347.9h1v1h-1zM673.9 349.3h1v1h-1zM674.4 350.5h1v1h-1zM675 351.3h1v1h-1zM675.6 352.1h1v1h-1zM676.1 353.4h1v1h-1zM676.7 353.8h1v1h-1zM677.2 354.9h1v1h-1zM677.8 356.4h1v1h-1zM678.3 357.1h1v1h-1zM678.9 358.5h1v1h-1zM679.4 359.7h1v1h-1zM680 361.8h1v1h-1zM680.5 363.1h1v1h-1zM681 364.4h1v1h-1zM681.6 366.5h1v1h-1zM682.1 367.6h1v1h-1zM682.6 369.4h1v1h-1zM683.1 371.3h1v1h-1zM683.6 372.1h1v1h-1zM684.2 373.8h1v1h-1zM684.7 374.8h1v1h-1zM685.2 376.5h1v1h-1zM685.7 378.3h1v1h-1zM686.2 379.1h1v1h-1zM686.7 380.8h1v1h-1zM687.2 382.1h1v1h-1zM687.7 383.7h1v1h-1zM688.2 385.5h1v1h-1zM688.7 388.1h1v1h-1zM689.1 390.4h1v1h-1zM689.6 392.3h1v1h-1zM690.1 394.6h1v1h-1zM690.6 397.4h1v1h-1zM691.1 399.8h1v1h-1zM691.5 402.5h1v1h-1zM692 404.8h1v1h-1zM692.5 407.2h1v1h-1zM693 409.5h1v1h-1zM693.4 411.7h1v1h-1zM693.9 414.1h1v1h-1zM694.4 416.5h1v1h-1zM694.8 419.3h1v1h-1zM695.3 421.8h1v1h-1zM695.7 424.7h1v1h-1zM696.2 427.5h1v1h-1zM696.6 430.7h1v1h-1zM697.1 434h1v1h-1zM697.5 437.5h1v1h-1zM698 441.2h1v1h-1zM698.4 444.9h1v1h-1zM698.8 448.8h1v1h-1zM699.3 452.7h1v1h-1z" fill="#00f" opacity=".55"/>
<path d="M192.5 33.9l3.5 5.9h-6.9zM257.9 34.1l3.5 5.9h-6.9zM296.2 34.8l3.5 5.9h-6.9zM323.3 35.1l3.5 5.9h-6.9zM344.4 35.9l3.5 5.9h-6.9zM361.6 36.6l3.5 5.9h-6.9zM376.1 38.1l3.5 5.9h-6.9zM388.7 39.8l3.5 5.9h-6.9zM399.9 41.2l3.5 5.9h-6.9zM409.8 43.2l3.5 5.9h-6.9zM418.8 45.4l3.5 5.9h-6.9zM427 48.5l3.5 5.9h-6.9zM434.6 51.9l3.5 5.9h-6.9zM441.6 55.5l3.5 5.9h-6.9zM448.1 59.8l3.5 5.9h-6.9zM454.2 64l3.5 5.9h-6.9zM459.9 69.1l3.5 5.9h-6.9zM465.3 74.5l3.5 5.9h-6.9zM470.4 80.6l3.5 5.9h-6.9zM475.2 86.5l3.5 5.9h-6.9zM479.8 92.8l3.5 5.9h-6.9zM484.2 99l3.5 5.9h-6.9zM488.4 105.3l3.5 5.9h-6.9zM492.4 111.6l3.5 5.9h-6.9zM496.3 117.8l3.5 5.9h-6.9zM500 124.1l3.5 5.9h-6.9zM503.5 130.9l3.5 5.9h-6.9zM507 138.7l3.5 5.9h-6.9zM510.3 146.1l3.5 5.9h-6.9zM513.5 153.9l3.5 5.9h-6.9zM516.6 162l3.5 5.9h-6.9zM519.6 169.4l3.5 5.9h-6.9zM522.5 176.5l3.5 5.9h-6.9zM525.3 182.9l3.5 5.9h-6.9zM528 188.9l3.5 5.9h-6.9zM530.7 193.6l3.5 5.9h-6.9zM533.3 197.9l3.5 5.9h-6.9zM535.8 201.7l3.5 5.9h-6.9zM538.2 205.1l3.5 5.9h-6.9zM540.6 208.4l3.5 5.9h-6.9zM543 215.5l3.5 5.9h-6.9zM545.2 219.6l3.5 5.9h-6.9zM547.5 225.1l3.5 5.9h-6.9zM549.6 230.5l3.5 5.9h-6.9zM551.7 235.4l3.5 5.9h-6.9zM553.8 240.8l3.5 5.9h-6.9zM555.9 245.9l3.5 5.9h-6.9zM557.8 250.1l3.5 5.9h-6.9zM559.8 254l3.5 5.9h-6.9zM561.7 257.1l3.5 5.9h-6.9zM563.6 259l3.5 5.9h-6.9zM565.4 259.9l3.5 5.9h-6.9zM567.2 259.8l3.5 5.9h-6.9zM569 259.6l3.5 5.9h-6.9zM570.7 259.8l3.5 5.9h-6.9zM572.4 260.2l3.5 5.9h-6.9zM574.1 262.3l3.5 5.9h-6.9zM575.7 264.8l3.5 5.9h-6.9zM577.3 267.1l3.5 5.9h-6.9zM578.9 270l3.5 5.9h-6.9zM580.5 272.8l3.5 5.9h-6.9zM582 275.6l3.5 5.9h-6.9zM583.5 277.9l3.5 5.9h-6.9zM585 281l3.5 5.9h-6.9zM586.5 283.4l3.5 5.9h-6.9zM587.9 286.5l3.5 5.9h-6.9zM589.3 289.1l3.5 5.9h-6.9zM590.7 291.5l3.5 5.9h-6.9zM592.1 293l3.5 5.9h-6.9zM593.4 294.7l3.5 5.9h-6.9zM594.8 294.9l3.5 5.9h-6.9zM596.1 295.6l3.5 5.9h-6.9zM597.4 296.7l3.5 5.9h-6.9zM598.7 297.4l3.5 5.9h-6.9zM600 299l3.5 5.9h-6.9zM601.2 300.1l3.5 5.9h-6.9zM602.4 300.8l3.5 5.9h-6.9zM603.7 302l3.5 5.9h-6.9zM604.9 303.6l3.5 5.9h-6.9zM606 305.6l3.5 5.9h-6.9zM607.2 304.9l3.5 5.9h-6.9zM608.4 306.9l3.5 5.9h-6.9zM609.5 306.5l3.5 5.9h-6.9zM610.7 307.5l3.5 5.9h-6.9zM611.8 306.6l3.5 5.9h-6.9zM612.9 306.9l3.5 5.9h-6.9zM614 306.3l3.5 5.9h-6.9zM615 306.6l3.5 5.9h-6.9zM616.1 307.8l3.5 5.9h-6.9zM617.2 307.8l3.5 5.9h-6.9zM618.2 308.2l3.5 5.9h-6.9zM619.2 309.6l3.5 5.9h-6.9zM620.3 310.7l3.5 5.9h-6.9zM621.3 312.8l3.5 5.9h-6.9zM622.3 314.4l3.5 5.9h-6.9zM623.3 315.7l3.5 5.9h-6.9zM624.2 316.8l3.5 5.9h-6.9zM625.2 317.3l3.5 5.9h-6.9zM626.2 318.8l3.5 5.9h-6.9zM627.1 319.6l3.5 5.9h-6.9zM628 321.1l3.5 5.9h-6.9zM629 322l3.5 5.9h-6.9zM629.9 321.3l3.5 5.9h-6.9zM630.8 321.4l3.5 5.9h-6.9zM631.7 322.2l3.5 5.9h-6.9zM632.6 322.3l3.5 5.9h-6.9zM633.5 322.6l3.5 5.9h-6.9zM634.4 323.3l3.5 5.9h-6.9zM635.2 322.9l3.5 5.9h-6.9zM636.1 324.3l3.5 5.9h-6.9zM637 324.1l3.5 5.9h-6.9zM637.8 324.6l3.5 5.9h-6.9zM638.6 324.6l3.5 5.9h-6.9zM639.5 324.6l3.5 5.9h-6.9zM640.3 324.8l3.5 5.9h-6.9zM641.1 325.7l3.5 5.9h-6.9zM641.9 326.1l3.5 5.9h-6.9zM642.7 327.1l3.5 5.9h-6.9zM643.5 327.6l3.5 5.9h-6.9zM644.3 327.4l3.5 5.9h-6.9zM645.1 329.3l3.5 5.9h-6.9zM645.9 329.2l3.5 5.9h-6.9zM646.6 330.7l3.5 5.9h-6.9zM647.4 331.9l3.5 5.9h-6.9zM648.2 331.7l3.5 5.9h-6.9zM648.9 334.5l3.5 5.9h-6.9zM649.7 335.7l3.5 5.9h-6.9zM650.4 336.6l3.5 5.9h-6.9zM651.1 337.3l3.5 5.9h-6.9zM651.9 338.2l3.5 5.9h-6.9zM652.6 338.4l3.5 5.9h-6.9zM653.3 339.6l3.5 5.9h-6.9zM654 340.1l3.5 5.9h-6.9zM654.7 341.2l3.5 5.9h-6.9zM655.4 340.8l3.5 5.9h-6.9zM656.1 342.2l3.5 5.9h-6.9zM656.8 342.3l3.5 5.9h-6.9zM657.5 342.3l3.5 5.9h-6.9zM658.2 342.3l3.5 5.9h-6.9zM658.9 343.2l3.5 5.9h-6.9zM659.5 341.5l3.5 5.9h-6.9zM660.2 343.1l3.5 5.9h-6.9zM660.9 343.1l3.5 5.9h-6.9zM661.5 343.2l3.5 5.9h-6.9zM662.2 343.4l3.5 5.9h-6.9zM662.8 343l3.5 5.9h-6.9zM663.5 344l3.5 5.9h-6.9zM664.1 345.3l3.5 5.9h-6.9zM664.7 345.9l3.5 5.9h-6.9zM665.4 346.5l3.5 5.9h-6.9zM666 345.7l3.5 5.9h-6.9zM666.6 348.3l3.5 5.9h-6.9zM667.2 349.6l3.5 5.9h-6.9zM667.9 350.3l3.5 5.9h-6.9zM668.5 350.3l3.5 5.9h-6.9zM669.1 349.5l3.5 5.9h-6.9zM669.7 352.2l3.5 5.9h-6.9zM670.3 351.9l3.5 5.9h-6.9zM670.9 350.5l3.5 5.9h-6.9zM671.5 353.3l3.5 5.9h-6.9zM672 352.4l3.5 5.9h-6.9zM672.6 353.2l3.5 5.9h-6.9zM673.2 354.4l3.5 5.9h-6.9zM673.8 356.6l3.5 5.9h-6.9zM674.4 355.9l3.5 5.9h-6.9zM674.9 357.1l3.5 5.9h-6.9zM675.5 359.2l3.5 5.9h-6.9zM676.1 359.9l3.5 5.9h-6.9zM676.6 359.1l3.5 5.9h-6.9zM677.2 359.8l3.5 5.9h-6.9zM677.7 359.7l3.5 5.9h-6.9zM678.3 361.1l3.5 5.9h-6.9zM678.8 362.8l3.5 5.9h-6.9zM679.4 363.6l3.5 5.9h-6.9zM679.9 364l3.5 5.9h-6.9zM680.5 365.6l3.5 5.9h-6.9zM681 364.8l3.5 5.9h-6.9zM681.5 366.1l3.5 5.9h-6.9zM682.1 367.5l3.5 5.9h-6.9zM682.6 368.1l3.5 5.9h-6.9zM683.1 369.3l3.5 5.9h-6.9zM683.6 369.6l3.5 5.9h-6.9zM684.1 369.8l3.5 5.9h-6.9zM684.7 371.4l3.5 5.9h-6.9zM685.2 371.1l3.5 5.9h-6.9zM685.7 371.5l3.5 5.9h-6.9zM686.2 374.5l3.5 5.9h-6.9zM686.7 374.7l3.5 5.9h-6.9zM687.2 376l3.5 5.9h-6.9zM687.7 375.1l3.5 5.9h-6.9zM688.2 377l3.5 5.9h-6.9zM688.7 377.5l3.5 5.9h-6.9zM689.2 377.9l3.5 5.9h-6.9zM689.6 377l3.5 5.9h-6.9zM690.1 379.3l3.5 5.9h-6.9zM690.6 380.8l3.5 5.9h-6.9zM691.1 380.5l3.5 5.9h-6.9zM691.6 379.5l3.5 5.9h-6.9zM692 380l3.5 5.9h-6.9zM692.5 380.7l3.5 5.9h-6.9zM693 377.3l3.5 5.9h-6.9zM693.5 379.9l3.5 5.9h-6.9zM693.9 380.5l3.5 5.9h-6.9zM694.4 380.7l3.5 5.9h-6.9zM694.9 381.9l3.5 5.9h-6.9zM695.3 381.7l3.5 5.9h-6.9zM695.8 381.2l3.5 5.9h-6.9zM696.2 381.8l3.5 5.9h-6.9zM696.7 382.8l3.5 5.9h-6.9zM697.1 382.1l3.5 5.9h-6.9zM697.6 383.1l3.5 5.9h-6.9zM698 384.5l3.5 5.9h-6.9zM698.5 385.9l3.5 5.9h-6.9zM698.9 384.6l3.5 5.9h-6.9zM699.3 385.4l3.5 5.9h-6.9zM699.8 386.2l3.5 5.9h-6.9zM700.2 387.9l3.5 5.9h-6.9zM700.7 387.2l3.5 5.9h-6.9zM701.1 389.4l3.5 5.9h-6.9zM701.5 387.7l3.5 5.9h-6.9zM701.9 389.4l3.5 5.9h-6.9zM702.4 390.1l3.5 5.9h-6.9zM702.8 392l3.5 5.9h-6.9zM703.2 393.1l3.5 5.9h-6.9zM703.6 391.2l3.5 5.9h-6.9zM704.1 392.5l3.5 5.9h-6.9zM704.5 394.3l3.5 5.9h-6.9zM704.9 393.8l3.5 5.9h-6.9zM705.3 393.2l3.5 5.9h-6.9zM705.7 396.3l3.5 5.9h-6.9zM706.1 396l3.5 5.9h-6.9zM706.5 396.1l3.5 5.9h-6.9zM706.9 395.3l3.5 5.9h-6.9zM707.3 396.9l3.5 5.9h-6.9zM707.7 395.4l3.5 5.9h-6.9zM708.1 396.7l3.5 5.9h-6.9zM708.5 394.6l3.5 5.9h-6.9zM708.9 394.4l3.5 5.9h-6.9zM709.3 395.2l3.5 5.9h-6.9zM709.7 393.9l3.5 5.9h-6.9zM710.1 395.6l3.5 5.9h-6.9zM710.5 395.4l3.5 5.9h-6.9zM710.9 394.5l3.5 5.9h-6.9zM711.3 396.5l3.5 5.9h-6.9zM711.7 397.1l3.5 5.9h-6.9zM712.1 399.9l3.5 5.9h-6.9zM712.4 399.4l3.5 5.9h-6.9zM712.8 401l3.5 5.9h-6.9zM713.2 404.2l3.5 5.9h-6.9zM713.6 406.5l3.5 5.9h-6.9zM714 407.2l3.5 5.9h-6.9zM714.3 406l3.5 5.9h-6.9zM714.7 406.6l3.5 5.9h-6.9zM715.1 408.5l3.5 5.9h-6.9zM715.4 406.8l3.5 5.9h-6.9zM715.8 406l3.5 5.9h-6.9zM716.2 407.6l3.5 5.9h-6.9zM716.6 408.2l3.5 5.9h-6.9zM716.9 406.9l3.5 5.9h-6.9zM717.3 406.4l3.5 5.9h-6.9zM717.6 407.2l3.5 5.9h-6.9zM718 410.2l3.5 5.9h-6.9zM718.4 409l3.5 5.9h-6.9zM718.7 410.4l3.5 5.9h-6.9zM719.1 411.4l3.5 5.9h-6.9zM719.4 412.3l3.5 5.9h-6.9zM719.8 411.3l3.5 5.9h-6.9zM720.1 412.5l3.5 5.9h-6.9zM720.5 410.7l3.5 5.9h-6.9zM720.8 411.6l3.5 5.9h-6.9zM721.2 410.9l3.5 5.9h-6.9zM721.5 414.2l3.5 5.9h-6.9zM721.9 413.3l3.5 5.9h-6.9zM722.2 412.9l3.5 5.9h-6.9zM722.6 414l3.5 5.9h-6.9zM722.9 415.2l3.5 5.9h-6.9zM723.3 417.3l3.5 5.9h-6.9zM723.6 415.1l3.5 5.9h-6.9zM723.9 416.8l3.5 5.9h-6.9zM724.3 418.3l3.5 5.9h-6.9zM724.6 422.8l3.5 5.9h-6.9zM724.9 421.3l3.5 5.9h-6.9zM725.3 420.5l3.5 5.9h-6.9zM725.6 422.2l3.5 5.9h-6.9zM725.9 424.8l3.5 5.9h-6.9zM726.3 422.1l3.5 5.9h-6.9zM726.6 422.4l3.5 5.9h-6.9zM726.9 424.9l3.5 5.9h-6.9zM727.3 424.1l3.5 5.9h-6.9zM727.6 424.8l3.5 5.9h-6.9zM727.9 423.5l3.5 5.9h-6.9zM728.2 427.4l3.5 5.9h-6.9zM728.6 427.1l3.5 5.9h-6.9zM728.9 425.6l3.5 5.9h-6.9zM729.2 425.9l3.5 5.9h-6.9zM729.5 422.2l3.5 5.9h-6.9zM729.8 426.2l3.5 5.9h-6.9zM730.2 425l3.5 5.9h-6.9zM730.5 426l3.5 5.9h-6.9zM730.8 426.5l3.5 5.9h-6.9zM731.1 424.8l3.5 5.9h-6.9zM731.4 422.5l3.5 5.9h-6.9zM731.7 425.5l3.5 5.9h-6.9zM732 423.9l3.5 5.9h-6.9zM732.3 424.5l3.5 5.9h-6.9zM732.7 424.2l3.5 5.9h-6.9zM733 424.8l3.5 5.9h-6.9zM733.3 422l3.5 5.9h-6.9zM733.6 428l3.5 5.9h-6.9zM733.9 427.2l3.5 5.9h-6.9zM734.2 429.4l3.5 5.9h-6.9zM734.5 431.4l3.5 5.9h-6.9zM734.8 429l3.5 5.9h-6.9zM735.1 427.2l3.5 5.9h-6.9zM735.4 429.3l3.5 5.9h-6.9zM735.7 429.4l3.5 5.9h-6.9zM736 430.9l3.5 5.9h-6.9zM736.3 432.4l3.5 5.9h-6.9zM736.6 429.1l3.5 5.9h-6.9zM736.9 433l3.5 5.9h-6.9zM737.2 430l3.5 5.9h-6.9zM737.5 432.9l3.5 5.9h-6.9zM737.8 432.1l3.5 5.9h-6.9zM738 431.8l3.5 5.9h-6.9zM738.3 432.4l3.5 5.9h-6.9zM738.6 432l3.5 5.9h-6.9z" stroke="#000" stroke-width="1.0" fill="none" stroke-linejoin="miter"/>
<path d="M192 37.2h1.1v1.1h-1.1zM257.4 37.5h1.1v1.1h-1.1zM295.6 38.1h1.1v1.1h-1.1zM322.8 38.5h1.1v1.1h-1.1zM343.8 39.2h1.1v1.1h-1.1zM361 40h1.1v1.1h-1.1zM375.6 41.5h1.1v1.1h-1.1zM388.2 43.1h1.1v1.1h-1.1zM399.3 44.6h1.1v1.1h-1.1zM409.3 46.6h1.1v1.1h-1.1zM418.3 48.8h1.1v1.1h-1.1zM426.5 51.9h1.1v1.1h-1.1zM434 55.2h1.1v1.1h-1.1zM441 58.9h1.1v1.1h-1.1zM447.5 63.1h1.1v1.1h-1.1zM453.6 67.4h1.1v1.1h-1.1zM459.3 72.5h1.1v1.1h-1.1zM464.7 77.8h1.1v1.1h-1.1zM469.8 84h1.1v1.1h-1.1zM474.7 89.9h1.1v1.1h-1.1zM479.3 96.2h1.1v1.1h-1.1zM483.7 102.3h1.1v1.1h-1.1zM487.9 108.7h1.1v1.1h-1.1zM491.9 115h1.1v1.1h-1.1zM495.7 121.2h1.1v1.1h-1.1zM499.4 127.5h1.1v1.1h-1.1zM503 134.2h1.1v1.1h-1.1zM506.4 141.9h1.1v1.1h-1.1zM509.7 149.3h1.1v1.1h-1.1zM512.9 157.2h1.1v1.1h-1.1zM516 165.2h1.1v1.1h-1.1zM519 172.7h1.1v1.1h-1.1zM521.9 179.8h1.1v1.1h-1.1zM524.7 186.2h1.1v1.1h-1.1zM527.5 192.2h1.1v1.1h-1.1zM530.1 196.8h1.1v1.1h-1.1zM532.7 201.2h1.1v1.1h-1.1zM535.2 204.9h1.1v1.1h-1.1zM537.7 208.3h1.1v1.1h-1.1zM540.1 211.7h1.1v1.1h-1.1zM542.4 218.8h1.1v1.1h-1.1zM544.7 222.9h1.1v1.1h-1.1zM546.9 228.4h1.1v1.1h-1.1zM549.1 233.8h1.1v1.1h-1.1zM551.2 238.7h1.1v1.1h-1.1zM553.3 244.1h1.1v1.1h-1.1zM555.3 249.2h1.1v1.1h-1.1zM557.3 253.4h1.1v1.1h-1.1zM559.2 257.3h1.1v1.1h-1.1zM561.1 260.4h1.1v1.1h-1.1zM563 262.3h1.1v1.1h-1.1zM564.8 263.2h1.1v1.1h-1.1zM566.6 263.1h1.1v1.1h-1.1zM568.4 262.9h1.1v1.1h-1.1zM570.1 263.1h1.1v1.1h-1.1zM571.8 263.5h1.1v1.1h-1.1zM573.5 265.6h1.1v1.1h-1.1zM575.1 268.1h1.1v1.1h-1.1zM576.8 270.4h1.1v1.1h-1.1zM578.3 273.3h1.1v1.1h-1.1zM579.9 276.1h1.1v1.1h-1.1zM581.4 278.9h1.1v1.1h-1.1zM583 281.2h1.1v1.1h-1.1zM584.4 284.3h1.1v1.1h-1.1zM585.9 286.7h1.1v1.1h-1.1zM587.3 289.8h1.1v1.1h-1.1zM588.8 292.4h1.1v1.1h-1.1zM590.2 294.8h1.1v1.1h-1.1zM591.5 296.3h1.1v1.1h-1.1zM592.9 298h1.1v1.1h-1.1zM594.2 298.2h1.1v1.1h-1.1zM595.6 298.9h1.1v1.1h-1.1zM596.9 300h1.1v1.1h-1.1zM598.1 300.7h1.1v1.1h-1.1zM599.4 302.3h1.1v1.1h-1.1zM600.7 303.4h1.1v1.1h-1.1zM601.9 304.1h1.1v1.1h-1.1zM603.1 305.3h1.1v1.1h-1.1zM604.3 306.9h1.1v1.1h-1.1zM605.5 308.9h1.1v1.1h-1.1zM606.7 308.2h1.1v1.1h-1.1zM607.8 310.2h1.1v1.1h-1.1zM609 309.8h1.1v1.1h-1.1zM610.1 310.8h1.1v1.1h-1.1zM611.2 309.9h1.1v1.1h-1.1zM612.3 310.2h1.1v1.1h-1.1zM613.4 309.6h1.1v1.1h-1.1zM614.5 309.9h1.1v1.1h-1.1zM615.6 311.1h1.1v1.1h-1.1zM616.6 311.1h1.1v1.1h-1.1zM617.7 311.5h1.1v1.1h-1.1zM618.7 312.9h1.1v1.1h-1.1zM619.7 314h1.1v1.1h-1.1zM620.7 316.1h1.1v1.1h-1.1zM621.7 317.7h1.1v1.1h-1.1zM622.7 319h1.1v1.1h-1.1zM623.7 320.1h1.1v1.1h-1.1zM624.6 320.6h1.1v1.1h-1.1zM625.6 322.1h1.1v1.1h-1.1zM626.6 322.9h1.1v1.1h-1.1zM627.5 324.4h1.1v1.1h-1.1zM628.4 325.3h1.1v1.1h-1.1zM629.3 324.6h1.1v1.1h-1.1zM630.3 324.7h1.1v1.1h-1.1zM631.2 325.5h1.1v1.1h-1.1zM632.1 325.6h1.1v1.1h-1.1zM632.9 325.9h1.1v1.1h-1.1zM633.8 326.6h1.1v1.1h-1.1zM634.7 326.2h1.1v1.1h-1.1zM635.6 327.6h1.1v1.1h-1.1zM636.4 327.4h1.1v1.1h-1.1zM637.3 327.9h1.1v1.1h-1.1zM638.1 327.9h1.1v1.1h-1.1zM638.9 327.9h1.1v1.1h-1.1zM639.7 328.1h1.1v1.1h-1.1zM640.6 329h1.1v1.1h-1.1zM641.4 329.4h1.1v1.1h-1.1zM642.2 330.4h1.1v1.1h-1.1zM643 330.9h1.1v1.1h-1.1zM643.8 330.7h1.1v1.1h-1.1zM644.5 332.6h1.1v1.1h-1.1zM645.3 332.5h1.1v1.1h-1.1zM646.1 334h1.1v1.1h-1.1zM646.9 335.2h1.1v1.1h-1.1zM647.6 335h1.1v1.1h-1.1zM648.4 337.8h1.1v1.1h-1.1zM649.1 339h1.1v1.1h-1.1zM649.9 339.9h1.1v1.1h-1.1zM650.6 340.6h1.1v1.1h-1.1zM651.3 341.5h1.1v1.1h-1.1zM652 341.7h1.1v1.1h-1.1zM652.8 342.9h1.1v1.1h-1.1zM653.5 343.4h1.1v1.1h-1.1zM654.2 344.5h1.1v1.1h-1.1zM654.9 344.1h1.1v1.1h-1.1zM655.6 345.5h1.1v1.1h-1.1zM656.3 345.6h1.1v1.1h-1.1zM657 345.6h1.1v1.1h-1.1zM657.6 345.6h1.1v1.1h-1.1zM658.3 346.5h1.1v1.1h-1.1zM659 344.8h1.1v1.1h-1.1zM659.6 346.4h1.1v1.1h-1.1zM660.3 346.4h1.1v1.1h-1.1zM661 346.5h1.1v1.1h-1.1zM661.6 346.7h1.1v1.1h-1.1zM662.3 346.3h1.1v1.1h-1.1zM662.9 347.3h1.1v1.1h-1.1zM663.6 348.6h1.1v1.1h-1.1zM664.2 349.2h1.1v1.1h-1.1zM664.8 349.8h1.1v1.1h-1.1zM665.4 349h1.1v1.1h-1.1zM666.1 351.6h1.1v1.1h-1.1zM666.7 352.9h1.1v1.1h-1.1zM667.3 353.6h1.1v1.1h-1.1zM667.9 353.6h1.1v1.1h-1.1zM668.5 352.8h1.1v1.1h-1.1zM669.1 355.5h1.1v1.1h-1.1zM669.7 355.2h1.1v1.1h-1.1zM670.3 353.8h1.1v1.1h-1.1zM670.9 356.6h1.1v1.1h-1.1zM671.5 355.7h1.1v1.1h-1.1zM672.1 356.5h1.1v1.1h-1.1zM672.7 357.7h1.1v1.1h-1.1zM673.2 359.9h1.1v1.1h-1.1zM673.8 359.2h1.1v1.1h-1.1zM674.4 360.4h1.1v1.1h-1.1zM675 362.5h1.1v1.1h-1.1zM675.5 363.2h1.1v1.1h-1.1zM676.1 362.4h1.1v1.1h-1.1zM676.6 363.1h1.1v1.1h-1.1zM677.2 363h1.1v1.1h-1.1zM677.7 364.4h1.1v1.1h-1.1zM678.3 366.1h1.1v1.1h-1.1zM678.8 366.9h1.1v1.1h-1.1zM679.4 367.3h1.1v1.1h-1.1zM679.9 368.9h1.1v1.1h-1.1zM680.4 368.1h1.1v1.1h-1.1zM681 369.4h1.1v1.1h-1.1zM681.5 370.8h1.1v1.1h-1.1zM682 371.4h1.1v1.1h-1.1zM682.5 372.6h1.1v1.1h-1.1zM683.1 372.9h1.1v1.1h-1.1zM683.6 373.1h1.1v1.1h-1.1zM684.1 374.7h1.1v1.1h-1.1zM684.6 374.4h1.1v1.1h-1.1zM685.1 374.8h1.1v1.1h-1.1zM685.6 377.8h1.1v1.1h-1.1zM686.1 378h1.1v1.1h-1.1zM686.6 379.3h1.1v1.1h-1.1zM687.1 378.4h1.1v1.1h-1.1zM687.6 380.3h1.1v1.1h-1.1zM688.1 380.8h1.1v1.1h-1.1zM688.6 381.2h1.1v1.1h-1.1zM689.1 380.3h1.1v1.1h-1.1zM689.6 382.6h1.1v1.1h-1.1zM690.1 384.1h1.1v1.1h-1.1zM690.5 383.8h1.1v1.1h-1.1zM691 382.8h1.1v1.1h-1.1zM691.5 383.3h1.1v1.1h-1.1zM692 384h1.1v1.1h-1.1zM692.4 380.6h1.1v1.1h-1.1zM692.9 383.2h1.1v1.1h-1.1zM693.4 383.8h1.1v1.1h-1.1zM693.8 384h1.1v1.1h-1.1zM694.3 385.2h1.1v1.1h-1.1zM694.8 385h1.1v1.1h-1.1zM695.2 384.5h1.1v1.1h-1.1zM695.7 385.1h1.1v1.1h-1.1zM696.1 386.1h1.1v1.1h-1.1zM696.6 385.4h1.1v1.1h-1.1zM697 386.4h1.1v1.1h-1.1zM697.5 387.8h1.1v1.1h-1.1zM697.9 389.2h1.1v1.1h-1.1zM698.4 387.9h1.1v1.1h-1.1zM698.8 388.7h1.1v1.1h-1.1zM699.2 389.5h1.1v1.1h-1.1zM699.7 391.2h1.1v1.1h-1.1zM700.1 390.5h1.1v1.1h-1.1zM700.5 392.7h1.1v1.1h-1.1zM701 391h1.1v1.1h-1.1zM701.4 392.7h1.1v1.1h-1.1zM701.8 393.4h1.1v1.1h-1.1zM702.2 395.3h1.1v1.1h-1.1zM702.7 396.4h1.1v1.1h-1.1zM703.1 394.5h1.1v1.1h-1.1zM703.5 395.8h1.1v1.1h-1.1zM703.9 397.6h1.1v1.1h-1.1zM704.3 397.1h1.1v1.1h-1.1zM704.7 396.5h1.1v1.1h-1.1zM705.2 399.6h1.1v1.1h-1.1zM705.6 399.3h1.1v1.1h-1.1zM706 399.4h1.1v1.1h-1.1zM706.4 398.6h1.1v1.1h-1.1zM706.8 400.2h1.1v1.1h-1.1zM707.2 398.7h1.1v1.1h-1.1zM707.6 400h1.1v1.1h-1.1zM708 397.9h1.1v1.1h-1.1zM708.4 397.7h1.1v1.1h-1.1zM708.8 398.5h1.1v1.1h-1.1zM709.2 397.2h1.1v1.1h-1.1zM709.6 398.9h1.1v1.1h-1.1zM710 398.7h1.1v1.1h-1.1zM710.3 397.8h1.1v1.1h-1.1zM710.7 399.8h1.1v1.1h-1.1zM711.1 400.4h1.1v1.1h-1.1zM711.5 403.2h1.1v1.1h-1.1zM711.9 402.7h1.1v1.1h-1.1zM712.3 404.3h1.1v1.1h-1.1zM712.7 407.5h1.1v1.1h-1.1zM713 409.8h1.1v1.1h-1.1zM713.4 410.5h1.1v1.1h-1.1zM713.8 409.3h1.1v1.1h-1.1zM714.2 409.9h1.1v1.1h-1.1zM714.5 411.8h1.1v1.1h-1.1zM714.9 410.1h1.1v1.1h-1.1zM715.3 409.3h1.1v1.1h-1.1zM715.6 410.9h1.1v1.1h-1.1zM716 411.5h1.1v1.1h-1.1zM716.4 410.2h1.1v1.1h-1.1zM716.7 409.7h1.1v1.1h-1.1zM717.1 410.5h1.1v1.1h-1.1zM717.5 413.5h1.1v1.1h-1.1zM717.8 412.3h1.1v1.1h-1.1zM718.2 413.7h1.1v1.1h-1.1zM718.5 414.7h1.1v1.1h-1.1zM718.9 415.6h1.1v1.1h-1.1zM719.2 414.6h1.1v1.1h-1.1zM719.6 415.8h1.1v1.1h-1.1zM719.9 414h1.1v1.1h-1.1zM720.3 414.9h1.1v1.1h-1.1zM720.6 414.2h1.1v1.1h-1.1zM721 417.5h1.1v1.1h-1.1zM721.3 416.6h1.1v1.1h-1.1zM721.7 416.2h1.1v1.1h-1.1zM722 417.3h1.1v1.1h-1.1zM722.4 418.5h1.1v1.1h-1.1zM722.7 420.6h1.1v1.1h-1.1zM723 418.4h1.1v1.1h-1.1zM723.4 420.1h1.1v1.1h-1.1zM723.7 421.6h1.1v1.1h-1.1zM724.1 426.1h1.1v1.1h-1.1zM724.4 424.6h1.1v1.1h-1.1zM724.7 423.8h1.1v1.1h-1.1zM725.1 425.5h1.1v1.1h-1.1zM725.4 428.1h1.1v1.1h-1.1zM725.7 425.4h1.1v1.1h-1.1zM726.1 425.7h1.1v1.1h-1.1zM726.4 428.2h1.1v1.1h-1.1zM726.7 427.4h1.1v1.1h-1.1zM727 428.1h1.1v1.1h-1.1zM727.4 426.8h1.1v1.1h-1.1zM727.7 430.7h1.1v1.1h-1.1zM728 430.4h1.1v1.1h-1.1zM728.3 428.9h1.1v1.1h-1.1zM728.6 429.2h1.1v1.1h-1.1zM729 425.5h1.1v1.1h-1.1zM729.3 429.5h1.1v1.1h-1.1zM729.6 428.3h1.1v1.1h-1.1zM729.9 429.3h1.1v1.1h-1.1zM730.2 429.8h1.1v1.1h-1.1zM730.5 428.1h1.1v1.1h-1.1zM730.9 425.8h1.1v1.1h-1.1zM731.2 428.8h1.1v1.1h-1.1zM731.5 427.2h1.1v1.1h-1.1zM731.8 427.8h1.1v1.1h-1.1zM732.1 427.5h1.1v1.1h-1.1zM732.4 428.1h1.1v1.1h-1.1zM732.7 425.3h1.1v1.1h-1.1zM733 431.3h1.1v1.1h-1.1zM733.3 430.5h1.1v1.1h-1.1zM733.6 432.7h1.1v1.1h-1.1zM733.9 434.7h1.1v1.1h-1.1zM734.2 432.3h1.1v1.1h-1.1zM734.5 430.5h1.1v1.1h-1.1zM734.8 432.6h1.1v1.1h-1.1zM735.1 432.7h1.1v1.1h-1.1zM735.4 434.2h1.1v1.1h-1.1zM735.7 435.7h1.1v1.1h-1.1zM736 432.4h1.1v1.1h-1.1zM736.3 436.3h1.1v1.1h-1.1zM736.6 433.3h1.1v1.1h-1.1zM736.9 436.2h1.1v1.1h-1.1zM737.2 435.4h1.1v1.1h-1.1zM737.5 435.1h1.1v1.1h-1.1zM737.8 435.7h1.1v1.1h-1.1zM738.1 435.3h1.1v1.1h-1.1z" fill="#000" opacity=".5"/>
<path d="M559.6 202L673.2 311.1" stroke="#000" stroke-width="2.2" fill="none"/>
<path d="M298.8 195.9h8.5v8.5h-8.5z" stroke="#f00" stroke-width="1.5" fill="none"/>
<path d="M302.4 199.6h1.1v1.1h-1.1z" fill="#f00"/>
<path d="M299.6 233.4a3.4 3.4 0 1 0 6.8 0a3.4 3.4 0 1 0 -6.8 0" stroke="#00f" stroke-width="1.0" fill="none"/>
<path d="M302.5 232.9h1v1h-1z" fill="#00f" opacity=".55"/>
<path d="M303 262.8l3.5 5.9h-6.9z" stroke="#000" stroke-width="1.0" fill="none"/>
<path d="M302.4 266h1.1v1.1h-1.1z" fill="#000" opacity=".5"/>
<path d="M262.4 299.4H343.9" stroke="#000" stroke-width="2.2" fill="none"/>
<rect x="125" y="6" width="613.5" height="448.7" fill="none" stroke="#000" stroke-width="1.7"/>
<g font-family="'Liberation Serif', serif" font-size="26.9" fill="#161616" opacity="0.999">
<text x="65.3" y="44.6" textLength="41.9" lengthAdjust="spacingAndGlyphs">100</text>
<text x="78.8" y="149" textLength="28.2" lengthAdjust="spacingAndGlyphs">10</text>
<text x="92.6" y="253.2" textLength="13.5" lengthAdjust="spacingAndGlyphs">1</text>
<text x="71.6" y="357.6" textLength="34.6" lengthAdjust="spacingAndGlyphs">0.1</text>
<text x="58" y="461.9" textLength="48.7" lengthAdjust="spacingAndGlyphs">0.01</text>
<text x="213.8" y="491.6" textLength="48.9" lengthAdjust="spacingAndGlyphs">0.01</text>
<text x="437.8" y="491.6" textLength="34.8" lengthAdjust="spacingAndGlyphs">0.1</text>
<text x="665.7" y="491.6" textLength="13.7" lengthAdjust="spacingAndGlyphs">1</text>
<text x="730.9" y="491.6" textLength="13.9" lengthAdjust="spacingAndGlyphs">2</text>
<text x="316.7" y="537.4" textLength="136.2" lengthAdjust="spacingAndGlyphs" font-size="27" font-size="27">Momentum</text>
<text x="462.1" y="537.4" textLength="14.8" lengthAdjust="spacingAndGlyphs" font-style="italic" font-size="27" font-size="27">k</text>
<text x="487.9" y="537.4" textLength="57.4" lengthAdjust="spacingAndGlyphs" font-size="27" font-size="27">[g.u.]</text>
<g transform="translate(28.3 354.4) rotate(-90)" font-size="27">
<text x="-1.1" y="0" textLength="137.3" lengthAdjust="spacingAndGlyphs" font-size="27">Occupation</text>
<text x="145.7" y="0" textLength="89.9" lengthAdjust="spacingAndGlyphs" font-size="27">number</text>
<text x="244.5" y="0" textLength="14.4" lengthAdjust="spacingAndGlyphs" font-style="italic" font-size="27">n</text>
<text x="259.4" y="0" textLength="8.8" lengthAdjust="spacingAndGlyphs" font-size="27">(</text>
<text x="271.5" y="0" textLength="14.8" lengthAdjust="spacingAndGlyphs" font-style="italic" font-size="27">k</text>
<text x="288.1" y="0" textLength="8.8" lengthAdjust="spacingAndGlyphs" font-size="27">)</text>
</g>
<text x="146.7" y="206.8" textLength="9.2" lengthAdjust="spacingAndGlyphs" font-style="italic">t</text>
<text x="163.8" y="207.4" textLength="23.5" lengthAdjust="spacingAndGlyphs">=</text>
<text x="193.8" y="206.8" textLength="14.1" lengthAdjust="spacingAndGlyphs">9</text>
<text x="214.7" y="207.2" textLength="20.5" lengthAdjust="spacingAndGlyphs">×</text>
<text x="240.4" y="206.8" textLength="27.1" lengthAdjust="spacingAndGlyphs">10</text>
<text x="268.8" y="196.1" textLength="11.4" lengthAdjust="spacingAndGlyphs" font-size="18.2">3</text>
<text x="194.1" y="240.4" textLength="8.5" lengthAdjust="spacingAndGlyphs" font-style="italic">t</text>
<text x="211" y="241" textLength="22.8" lengthAdjust="spacingAndGlyphs">=</text>
<text x="240.4" y="240.4" textLength="27.1" lengthAdjust="spacingAndGlyphs">10</text>
<text x="268.5" y="229.7" textLength="11.7" lengthAdjust="spacingAndGlyphs" font-size="18.2">5</text>
<text x="194.1" y="273" textLength="8.5" lengthAdjust="spacingAndGlyphs" font-style="italic">t</text>
<text x="211" y="273.6" textLength="22.8" lengthAdjust="spacingAndGlyphs">=</text>
<text x="240.4" y="273" textLength="27.1" lengthAdjust="spacingAndGlyphs">10</text>
<text x="269" y="262.3" textLength="10.9" lengthAdjust="spacingAndGlyphs" font-size="18.2">6</text>
<text x="200.3" y="305.8" textLength="11.1" lengthAdjust="spacingAndGlyphs" font-style="italic">k</text>
<text x="215.2" y="297.6" textLength="15.7" lengthAdjust="spacingAndGlyphs" font-size="18.2">−</text>
<text x="231.4" y="297.2" textLength="11.7" lengthAdjust="spacingAndGlyphs" font-size="18.2">2</text>
<text x="357.5" y="420.6" textLength="13.9" lengthAdjust="spacingAndGlyphs" font-style="italic">π</text>
<text x="374.3" y="426" textLength="11.5" lengthAdjust="spacingAndGlyphs" font-size="36.5" fill="#4a4a4a">/</text>
<text x="388.6" y="420.6" textLength="18.9" lengthAdjust="spacingAndGlyphs" font-style="italic">R</text>
<text x="456.6" y="420.6" textLength="11" lengthAdjust="spacingAndGlyphs" font-style="italic">k</text>
<text x="468.4" y="424.8" textLength="9.8" lengthAdjust="spacingAndGlyphs" font-style="italic" font-size="18.2">ξ</text>
</g>
</svg>
</body></html>
